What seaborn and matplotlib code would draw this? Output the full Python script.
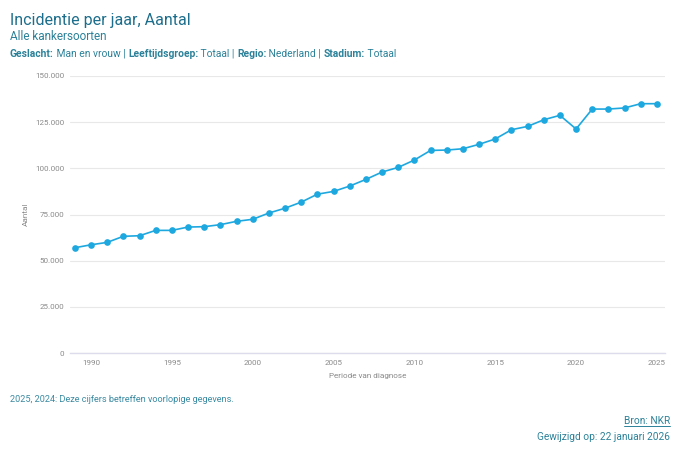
import matplotlib
matplotlib.use("Agg")
import matplotlib.pyplot as plt
import seaborn as sns
import pandas as pd
from matplotlib.ticker import FuncFormatter

years = list(range(1989, 2026))
aantal = [57000, 58600, 59900, 63200, 63500, 66400, 66400, 68200, 68400, 69500,
          71300, 72400, 75800, 78400, 81700, 86000, 87500, 90400, 94000, 98000,
          100500, 104500, 109700, 109900, 110600, 113000, 115900, 120900, 122700,
          126300, 128700, 121300, 132100, 132100, 132700, 135000, 135000]
yticks = [0, 25000, 50000, 75000, 100000, 125000, 150000]
xticks = [1990, 1995, 2000, 2005, 2010, 2015, 2020, 2025]

title = "Incidentie per jaar, Aantal"
subtitle = "Alle kankersoorten"
filters = [("Geslacht:", True), (" Man en vrouw | ", False), ("Leeftijdsgroep:", True),
           (" Totaal | ", False), ("Regio:", True), (" Nederland | ", False),
           ("Stadium:", True), (" Totaal", False)]
note = "2025, 2024: Deze cijfers betreffen voorlopige gegevens."
source = "Bron: NKR"
modified = "Gewijzigd op: 22 januari 2026"

sns.set_theme(style="white")
plt.rcParams["font.family"] = ["Roboto", "DejaVu Sans"]

df = pd.DataFrame({"Periode van diagnose": years, "Aantal": aantal})

W, H = 680, 453
fig = plt.figure(figsize=(W / 100, H / 100), dpi=100)
ax = fig.add_axes([70 / W, 1 - 353 / H, (665 - 70) / W, (353 - 76) / H])

LINE = "#1ea8e0"
sns.lineplot(data=df, x="Periode van diagnose", y="Aantal", ax=ax, color=LINE,
             marker="o", markersize=4.8, markeredgewidth=0, linewidth=1.2, zorder=3)

ax.set_ylim(0, 150000)
ax.set_xlim(1988.7, 2025.5)
ax.set_yticks(yticks)
ax.set_xticks(xticks)
ax.yaxis.set_major_formatter(FuncFormatter(lambda v, p: f"{int(v):,}".replace(",", ".")))
ax.grid(axis="y", color="#e8e8e8", linewidth=0.8)
ax.grid(axis="x", visible=False)
for s in ["top", "right", "left"]:
    ax.spines[s].set_visible(False)
ax.spines["bottom"].set_color("#dcdcec")
ax.spines["bottom"].set_linewidth(1.0)
ax.tick_params(axis="both", length=0, labelsize=5.8, labelcolor="#8a8a8a", pad=4)
ax.tick_params(axis="x", pad=5)
ax.set_xlabel("Periode van diagnose", fontsize=5.9, color="#8a8a8a", labelpad=5)
ax.set_ylabel("Aantal", fontsize=5.9, color="#8a8a8a", labelpad=5)

TC = "#1c6e8c"
SC = "#2b8199"
fig.text(10 / W, 1 - 25 / H, title, fontsize=11.5, color=TC, ha="left", va="baseline")
fig.text(10 / W, 1 - 40 / H, subtitle, fontsize=8.5, color=SC, ha="left", va="baseline")

fig.canvas.draw()
renderer = fig.canvas.get_renderer()
x = 10
for txt, bold in filters:
    t = fig.text(x / W, 1 - 57 / H, txt, fontsize=7.4, color=SC, ha="left", va="baseline",
                 fontweight="bold" if bold else "normal")
    bb = t.get_window_extent(renderer=renderer)
    x += bb.width

fig.text(10 / W, 1 - 402 / H, note, fontsize=6.6, color="#3a8aa2", ha="left", va="baseline")
src = fig.text(670 / W, 1 - 424 / H, source, fontsize=7.3, color=SC, ha="right", va="baseline")
fig.text(670 / W, 1 - 440 / H, modified, fontsize=7.3, color=SC, ha="right", va="baseline")
bb = src.get_window_extent(renderer=renderer)
fig.add_artist(plt.Line2D([bb.x0 / W, bb.x1 / W], [(H - 426) / H, (H - 426) / H],
                          color=SC, linewidth=0.7))

fig.savefig("out.png", dpi=100)
